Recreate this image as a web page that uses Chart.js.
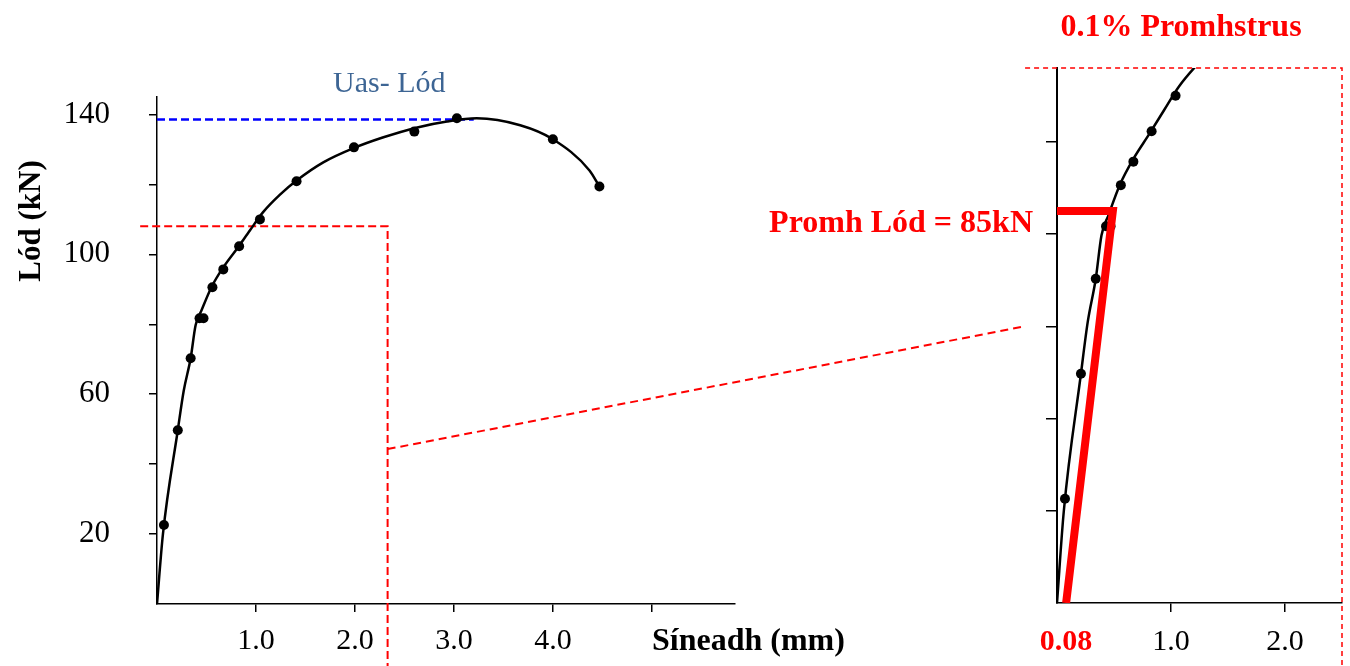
<!DOCTYPE html>
<html>
<head>
<meta charset="utf-8">
<title>Lód v Síneadh</title>
<script src="https://cdn.jsdelivr.net/npm/chart.js@4.4.1/dist/chart.umd.min.js"></script>
<style>
  body { margin: 0; background: #fff; }
  #wrap { position: relative; width: 1350px; height: 666px; }
  #wrap canvas { position: absolute; left: 0; top: 0; }
</style>
</head>
<body>
<div id="wrap">
  <canvas id="mainChart" width="1350" height="666"></canvas>
  <canvas id="zoomChart" width="1350" height="666"></canvas>
</div>
<script>
'use strict';

// ─── Data ─────────────────────────────────────────────────────────────────────
// measured points (Síneadh mm, Lód kN)
const pointX = [0.07, 0.21, 0.34, 0.43, 0.47, 0.56, 0.67, 0.83, 1.04, 1.41, 1.99, 2.60, 3.03, 4.00, 4.47];
const pointY = [22.6, 49.7, 70.3, 81.7, 81.7, 90.6, 95.7, 102.3, 110.0, 120.9, 130.6, 135.1, 138.9, 132.9, 119.4];

// fitted curve
const curveX = [0, 0.06, 0.21, 0.27, 0.34, 0.39, 0.45, 0.55, 0.67, 0.81, 0.94, 1.07, 1.24, 1.41, 1.68, 1.98, 2.28, 2.63, 2.93, 3.23, 3.67, 4.0, 4.37, 4.47];
const curveY = [0, 20, 49.7, 61, 70.3, 79.7, 84, 90.6, 96.3, 101.7, 106.9, 112, 117, 121.1, 126.3, 130.3, 133.4, 136.3, 138, 138.9, 136.9, 132.9, 124, 119.4];

// max load line
const peakLoad = 138.6;
const peakX = [0, 3.2];

// 0.1% proof stress construction
const proofX = [0, 0.49, 0.08];
const proofY = [85, 85, 0];

// zoom box (main chart) and its frame (inset)
const zoomBoxX = [-0.17, 2.33];
const zoomBoxTop = 108;
const insetBoxX = [-0.28, 2.5];
const insetBoxTop = 116;
const boxBottom = -40;
// connector: from main box (x, y) to inset frame (x, y)
const linkFrom = [2.33, 44.3];
const linkTo = [-0.28, 60];

// ticks
const mainXTicks = [1, 2, 3, 4, 5];
const mainXLabels = ['1.0', '2.0', '3.0', '4.0', ''];
const mainYLabels = [20, 60, 100, 140];
const zoomXTicks = [0.08, 1, 2];
const zoomXLabels = ['0.08', '1.0', '2.0'];

const SERIF = '"Liberation Serif", "Times New Roman", serif';
const RED = '#ff0000';

// ─── Helpers ──────────────────────────────────────────────────────────────────
const xy = (xs, ys) => xs.map((x, i) => ({ x, y: ys[i] }));
const boxPath = (xs, top) => [
  { x: xs[0], y: boxBottom }, { x: xs[0], y: top }, { x: xs[1], y: top }, { x: xs[1], y: boxBottom },
];
const hideZero = ctx => (ctx.tick && ctx.tick.value === 0 ? 'rgba(0,0,0,0)' : '#000');

function curveSet() {
  return {
    data: xy(curveX, curveY), borderColor: '#000', borderWidth: 2.5,
    pointRadius: 0, cubicInterpolationMode: 'monotone', order: 3,
  };
}
function pointSet() {
  return {
    data: xy(pointX, pointY), showLine: false, pointRadius: 5,
    pointBackgroundColor: '#000', pointBorderColor: '#000', pointBorderWidth: 0, order: 2,
  };
}

const baseOptions = {
  responsive: false,
  animation: false,
  devicePixelRatio: 1,
  plugins: { legend: { display: false }, tooltip: { enabled: false } },
  events: [],
};

// ─── Main chart ───────────────────────────────────────────────────────────────
const mainText = {
  id: 'mainText',
  afterDraw(chart) {
    const ctx = chart.ctx;
    ctx.save();
    ctx.textBaseline = 'alphabetic';
    ctx.fillStyle = '#3d6594';
    ctx.font = `30px ${SERIF}`;
    ctx.textAlign = 'left';
    ctx.fillText('Uas- Lód', 333, 92);

    ctx.fillStyle = '#000';
    ctx.font = `bold 32px ${SERIF}`;
    ctx.fillText('Síneadh (mm)', 652, 650);

    ctx.font = `bold 31px ${SERIF}`;
    ctx.translate(40, 221);
    ctx.rotate(-Math.PI / 2);
    ctx.textAlign = 'center';
    ctx.fillText('Lód (kN)', 0, 0);
    ctx.restore();
  },
};

const mainChart = new Chart(document.getElementById('mainChart'), {
  type: 'line',
  data: {
    datasets: [
      pointSet(),
      curveSet(),
      {
        data: xy(peakX, [peakLoad, peakLoad]), borderColor: '#0000ff', borderWidth: 2.5,
        borderDash: [8, 4], pointRadius: 0, order: 4,
      },
      {
        data: boxPath(zoomBoxX, zoomBoxTop), borderColor: RED, borderWidth: 2,
        borderDash: [8, 4], pointRadius: 0, clip: false, order: 5,
      },
    ],
  },
  options: {
    ...baseOptions,
    layout: { padding: { left: 0, top: 97, right: 615, bottom: 0 } },
    scales: {
      x: {
        type: 'linear', min: 0, max: 5.84,
        afterFit: s => { s.height = 62; },
        afterBuildTicks: s => { s.ticks = mainXTicks.map(v => ({ value: v })); },
        ticks: {
          autoSkip: false, maxRotation: 0, padding: 11, color: '#000',
          font: { family: SERIF, size: 30 },
          callback: (v, i) => mainXLabels[i] || '',
        },
        grid: { drawOnChartArea: false, tickLength: 8, color: '#000', lineWidth: 1.5 },
        border: { color: '#000', width: 1.5 },
      },
      y: {
        type: 'linear', min: 0, max: 145,
        afterFit: s => { s.width = 157; },
        ticks: {
          stepSize: 20, includeBounds: false, padding: 39, color: '#000',
          font: { family: SERIF, size: 31 },
          callback: v => (mainYLabels.includes(v) ? v : ''),
        },
        grid: { drawOnChartArea: false, tickLength: 8, color: hideZero, lineWidth: 1.5 },
        border: { color: '#000', width: 1.5 },
      },
    },
  },
  plugins: [mainText],
});

// ─── Inset (zoomed) chart ─────────────────────────────────────────────────────
const zoomText = {
  id: 'zoomText',
  afterDraw(chart) {
    const ctx = chart.ctx;
    const mx = mainChart.scales.x, my = mainChart.scales.y;
    const zx = chart.scales.x, zy = chart.scales.y;

    ctx.save();
    // connector between the two dashed boxes
    ctx.strokeStyle = RED;
    ctx.lineWidth = 2;
    ctx.setLineDash([8, 5]);
    ctx.beginPath();
    ctx.moveTo(mx.getPixelForValue(linkFrom[0]), my.getPixelForValue(linkFrom[1]));
    ctx.lineTo(zx.getPixelForValue(linkTo[0]), zy.getPixelForValue(linkTo[1]));
    ctx.stroke();
    ctx.setLineDash([]);

    ctx.fillStyle = RED;
    ctx.font = `bold 32px ${SERIF}`;
    ctx.textBaseline = 'alphabetic';
    ctx.textAlign = 'right';
    ctx.fillText('Promh Lód = 85kN', 1033, zy.getPixelForValue(proofY[0]) + 21);
    ctx.textAlign = 'center';
    ctx.fillText('0.1% Promhstrus', 1181, 36);
    ctx.restore();
  },
};

new Chart(document.getElementById('zoomChart'), {
  type: 'line',
  data: {
    datasets: [
      {
        data: xy(proofX, proofY), borderColor: RED, borderWidth: 8,
        borderJoinStyle: 'miter', pointRadius: 0, order: 1,
      },
      pointSet(),
      curveSet(),
      {
        data: boxPath(insetBoxX, insetBoxTop), borderColor: RED, borderWidth: 1.5,
        borderDash: [5, 4], pointRadius: 0, clip: false, order: 5,
      },
    ],
  },
  options: {
    ...baseOptions,
    layout: { padding: { left: 1000, top: 68, right: 8, bottom: 0 } },
    scales: {
      x: {
        type: 'linear', min: 0, max: 2.5,
        afterFit: s => { s.height = 63; },
        afterBuildTicks: s => { s.ticks = zoomXTicks.map(v => ({ value: v })); },
        ticks: {
          autoSkip: false, maxRotation: 0, padding: 12,
          color: ctx => (ctx.index === 0 ? RED : '#000'),
          font: ctx => ({ family: SERIF, size: 30, weight: ctx.index === 0 ? 'bold' : 'normal' }),
          callback: (v, i) => zoomXLabels[i],
        },
        grid: {
          drawOnChartArea: false, tickLength: 9, lineWidth: 1.5,
          color: ctx => (ctx.index === 0 ? 'rgba(0,0,0,0)' : '#000'),
        },
        border: { color: '#000', width: 1.5 },
      },
      y: {
        type: 'linear', min: 0, max: 116,
        afterFit: s => { s.width = 57; },
        ticks: { stepSize: 20, includeBounds: false, callback: () => '' },
        grid: { drawOnChartArea: false, tickLength: 11, color: hideZero, lineWidth: 1.5 },
        border: { color: '#000', width: 2 },
      },
    },
  },
  plugins: [zoomText],
});
</script>
</body>
</html>
